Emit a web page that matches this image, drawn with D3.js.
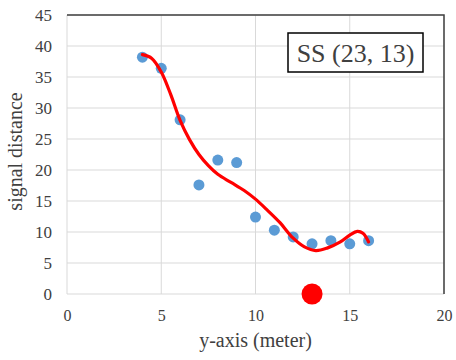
<!DOCTYPE html>
<html>
<head>
<meta charset="utf-8">
<script src="https://cdn.jsdelivr.net/npm/d3@7"></script>
<style>
  body { margin: 0; background: #fff; }
  text { font-family: "Liberation Serif", "Times New Roman", serif; fill: #404040; }
</style>
</head>
<body>
<div id="chart"></div>
<script>
// measured points
const xValues = [4, 5, 6, 7, 8, 9, 10, 11, 12, 13, 14, 15, 16];
const yValues = [38.2, 36.4, 28.1, 17.6, 21.6, 21.2, 12.4, 10.3, 9.2, 8.1, 8.6, 8.1, 8.6];

// fitted curve
const fitX = [4.0, 4.5, 5.0, 5.5, 6.0, 6.5, 7.0, 7.5, 8.0, 8.7, 9.4, 10.0, 10.6, 11.3, 12.0, 12.6, 13.2, 13.8, 14.5, 15.0, 15.4, 15.7, 16.0];
const fitY = [38.6, 38.0, 35.8, 32.2, 28.0, 24.9, 22.5, 20.7, 19.3, 18.0, 16.7, 15.3, 13.6, 11.5, 9.0, 7.6, 7.0, 7.4, 8.4, 9.5, 10.1, 9.8, 8.4];

// source position
const srcX = [13];
const srcY = [0];

const xTicks = [0, 5, 10, 15, 20];
const yTicks = [0, 5, 10, 15, 20, 25, 30, 35, 40, 45];
const label = 'SS (23, 13)';

const margin = { top: 15, right: 12, bottom: 66, left: 67 };
const width = 456 - margin.left - margin.right;
const height = 360 - margin.top - margin.bottom;

const svg = d3.select('#chart')
  .append('svg')
  .attr('width', 456)
  .attr('height', 360)
  .append('g')
  .attr('transform', `translate(${margin.left},${margin.top})`);

const x = d3.scaleLinear().domain([0, 20]).range([0, width]);
const y = d3.scaleLinear().domain([0, 45]).range([height, 0]);

// grid
svg.append('g')
  .selectAll('line.v')
  .data(xTicks)
  .enter().append('line')
  .attr('x1', d => x(d)).attr('x2', d => x(d))
  .attr('y1', 0).attr('y2', height)
  .attr('stroke', '#d9d9d9').attr('stroke-width', 1);

svg.append('g')
  .selectAll('line.h')
  .data(yTicks)
  .enter().append('line')
  .attr('x1', 0).attr('x2', width)
  .attr('y1', d => y(d)).attr('y2', d => y(d))
  .attr('stroke', '#d9d9d9').attr('stroke-width', 1);

// dark top/right frame
svg.append('path')
  .attr('d', `M0,0H${width}V${height}`)
  .attr('fill', 'none')
  .attr('stroke', '#404040')
  .attr('stroke-width', 1.5);

// axes
const xAxis = svg.append('g')
  .attr('transform', `translate(0,${height})`)
  .call(d3.axisBottom(x).tickValues(xTicks).tickSize(0).tickPadding(16));
xAxis.select('.domain').remove();
xAxis.selectAll('text').style('font-size', '16px');

const yAxis = svg.append('g')
  .call(d3.axisLeft(y).tickValues(yTicks).tickSize(0).tickPadding(15));
yAxis.select('.domain').remove();
yAxis.selectAll('text').style('font-size', '17px');

// axis titles
svg.append('text')
  .attr('x', width / 2)
  .attr('y', height + 53)
  .attr('text-anchor', 'middle')
  .style('font-size', '20px')
  .text('y-axis (meter)');

svg.append('text')
  .attr('transform', `translate(${-45},${height / 2 - 3}) rotate(-90)`)
  .attr('text-anchor', 'middle')
  .style('font-size', '20px')
  .text('signal distance');

// points
const pts = xValues.map((d, i) => ({ x: d, y: yValues[i] }));
svg.selectAll('circle.pt')
  .data(pts)
  .enter().append('circle')
  .attr('class', 'pt')
  .attr('cx', d => x(d.x))
  .attr('cy', d => y(d.y))
  .attr('r', 5.5)
  .attr('fill', '#5b9bd5');

// fitted curve
const fit = fitX.map((d, i) => ({ x: d, y: fitY[i] }));
svg.append('path')
  .datum(fit)
  .attr('fill', 'none')
  .attr('stroke', '#ff0000')
  .attr('stroke-width', 3.2)
  .attr('stroke-linecap', 'round')
  .attr('d', d3.line().x(d => x(d.x)).y(d => y(d.y)).curve(d3.curveCatmullRom));

// source dot
svg.selectAll('circle.src')
  .data(srcX.map((d, i) => ({ x: d, y: srcY[i] })))
  .enter().append('circle')
  .attr('class', 'src')
  .attr('cx', d => x(d.x))
  .attr('cy', d => y(d.y))
  .attr('r', 10.5)
  .attr('fill', '#ff0000');

// label box
const bx = 221, by = 18, bw = 135, bh = 39;
svg.append('rect')
  .attr('x', bx).attr('y', by)
  .attr('width', bw).attr('height', bh)
  .attr('fill', '#fff')
  .attr('stroke', '#000')
  .attr('stroke-width', 1.5);
svg.append('text')
  .attr('x', bx + bw / 2)
  .attr('y', by + bh / 2 + 9)
  .attr('text-anchor', 'middle')
  .style('font-size', '26px')
  .text(label);
</script>
</body>
</html>
